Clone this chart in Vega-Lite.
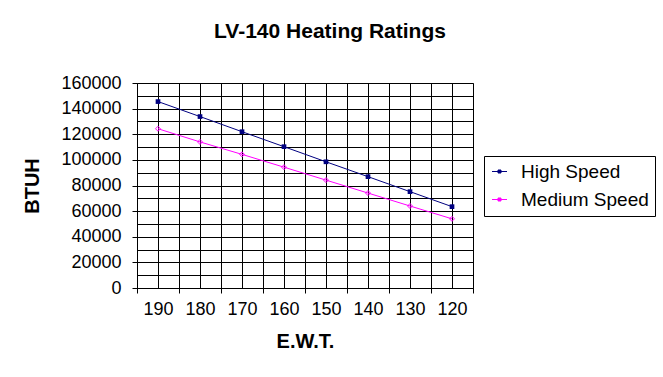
{
  "$schema": "https://vega.github.io/schema/vega-lite/v6.json",
  "width": 336,
  "height": 205,
  "autosize": {"type": "none"},
  "padding": {"left": 137, "top": 83, "right": 190, "bottom": 89},
  "background": "white",
  "title": {
    "text": "LV-140 Heating Ratings",
    "font": "Liberation Sans",
    "fontSize": 21,
    "fontWeight": "bold",
    "color": "black",
    "anchor": "middle",
    "baseline": "alphabetic",
    "offset": 15,
    "dx": 25
  },
  "config": {
    "view": {"stroke": "#808080", "strokeWidth": 1},
    "font": "Liberation Sans"
  },
  "data": {
    "values": [
      {"ewt": 190, "series": "High Speed", "btuh": 145500},
      {"ewt": 180, "series": "High Speed", "btuh": 133800},
      {"ewt": 170, "series": "High Speed", "btuh": 122000},
      {"ewt": 160, "series": "High Speed", "btuh": 110300},
      {"ewt": 150, "series": "High Speed", "btuh": 98500},
      {"ewt": 140, "series": "High Speed", "btuh": 86900},
      {"ewt": 130, "series": "High Speed", "btuh": 75200},
      {"ewt": 120, "series": "High Speed", "btuh": 63500},
      {"ewt": 190, "series": "Medium Speed", "btuh": 124300},
      {"ewt": 180, "series": "Medium Speed", "btuh": 114000},
      {"ewt": 170, "series": "Medium Speed", "btuh": 104300},
      {"ewt": 160, "series": "Medium Speed", "btuh": 94300},
      {"ewt": 150, "series": "Medium Speed", "btuh": 84200},
      {"ewt": 140, "series": "Medium Speed", "btuh": 74100},
      {"ewt": 130, "series": "Medium Speed", "btuh": 64000},
      {"ewt": 120, "series": "Medium Speed", "btuh": 54000}
    ]
  },
  "encoding": {
    "x": {
      "field": "ewt",
      "type": "quantitative",
      "scale": {"domain": [195, 115], "nice": false, "zero": false},
      "axis": {
        "title": "E.W.T.",
        "titleFont": "Liberation Sans",
        "titleFontSize": 20,
        "titleFontWeight": "bold",
        "titleColor": "black",
        "titlePadding": 13,
        "values": [195, 190, 185, 180, 175, 170, 165, 160, 155, 150, 145, 140, 135, 130, 125, 120, 115],
        "format": "d",
        "labelExpr": "datum.value % 10 === 0 ? datum.label : ''",
        "labelFont": "Liberation Sans",
        "labelFontSize": 18,
        "labelColor": "black",
        "labelPadding": 7,
        "labelFlush": false,
        "labelOverlap": false,
        "tickSize": 5,
        "tickColor": "black",
        "tickOpacity": {"condition": {"test": "datum.value % 10 === 0", "value": 0}, "value": 1},
        "domainColor": "black",
        "grid": true,
        "gridColor": "black",
        "gridOpacity": 1,
        "gridWidth": 1
      }
    },
    "y": {
      "field": "btuh",
      "type": "quantitative",
      "scale": {"domain": [0, 160000], "nice": false},
      "axis": {
        "title": "BTUH",
        "titleFont": "Liberation Sans",
        "titleFontSize": 20,
        "titleFontWeight": "bold",
        "titleColor": "black",
        "titlePadding": 18,
        "values": [0, 10000, 20000, 30000, 40000, 50000, 60000, 70000, 80000, 90000, 100000, 110000, 120000, 130000, 140000, 150000, 160000],
        "format": "d",
        "labelExpr": "datum.value % 20000 === 0 ? datum.label : ''",
        "labelFont": "Liberation Sans",
        "labelFontSize": 18,
        "labelColor": "black",
        "labelPadding": 11,
        "labelFlush": false,
        "labelOverlap": false,
        "tickSize": 5,
        "tickColor": "black",
        "tickOpacity": {"condition": {"test": "datum.value % 20000 === 0", "value": 1}, "value": 0},
        "domainColor": "black",
        "grid": true,
        "gridColor": "black",
        "gridOpacity": 1,
        "gridWidth": 1
      }
    },
    "color": {
      "field": "series",
      "type": "nominal",
      "scale": {"domain": ["High Speed", "Medium Speed"], "range": ["#000080", "#FF00FF"]},
      "legend": {
        "title": null,
        "orient": "none",
        "legendX": 347,
        "legendY": 73,
        "strokeColor": "black",
        "fillColor": "white",
        "padding": 6,
        "labelFont": "Liberation Sans",
        "labelFontSize": 19,
        "labelColor": "black",
        "labelOffset": 12,
        "rowPadding": 8,
        "symbolType": "M-1,0H1M-0.2,-0.2H0.2V0.2H-0.2Z",
        "symbolSize": 225,
        "symbolStrokeWidth": 1,
        "encode": {
          "symbols": {
            "update": {
              "fill": {"scale": "color", "field": "value"},
              "fillOpacity": {"value": 1},
              "stroke": {"scale": "color", "field": "value"}
            }
          }
        }
      }
    }
  },
  "layer": [
    {
      "mark": {"type": "line", "strokeWidth": 1}
    },
    {
      "transform": [{"filter": "datum.series === 'High Speed'"}],
      "mark": {"type": "point", "shape": "square", "filled": true, "size": 22, "opacity": 1}
    },
    {
      "transform": [{"filter": "datum.series === 'Medium Speed'"}],
      "mark": {"type": "point", "shape": "diamond", "filled": false, "size": 25, "strokeWidth": 1, "opacity": 1}
    }
  ]
}
